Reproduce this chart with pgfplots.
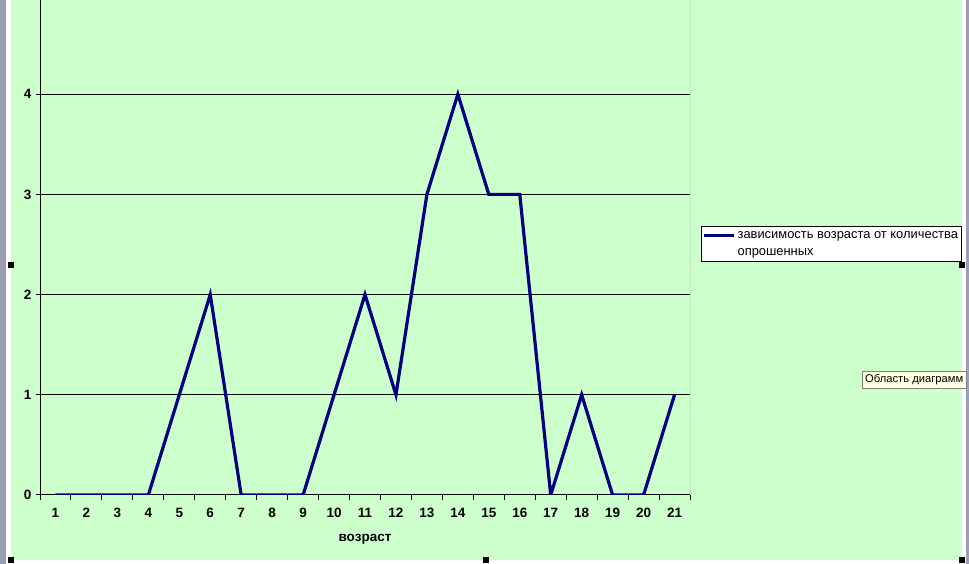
\documentclass[border=0pt]{standalone}
\usepackage{fontspec}
\setmainfont{Liberation Sans}
\usepackage{pgfplots}
\pgfplotsset{compat=1.18}
\definecolor{bggreen}{HTML}{CCFFCC}
\definecolor{navy}{HTML}{000080}
\definecolor{edgegray}{HTML}{9A9EB2}
\definecolor{tipyellow}{HTML}{FFFFE1}
\begin{document}
\begin{tikzpicture}[x=1pt,y=1pt]
\useasboundingbox (0,0) rectangle (969,564);
\fill[white] (0,0) rectangle (969,564);
\fill[edgegray] (0,0) rectangle (6,564);
\fill[edgegray] (966,0) rectangle (969,564);
\fill[bggreen] (11,4) rectangle (962,564);
\begin{axis}[
    at={(40pt,69pt)}, anchor=south west,
    scale only axis, width=650pt, height=495pt,
    xmin=0.5, xmax=21.5, ymin=0, ymax=4.94,
    axis x line*=bottom, axis y line*=left,
    axis line style={black, line width=1pt, -},
    xtick={1,...,21},
    minor xtick={0.5,1.5,...,21.5},
    ytick={0,1,2,3,4},
    tick align=outside,
    major tick length=4pt,
    minor tick length=5pt,
    tick style={black, line width=1pt},
    major x tick style={draw=none},
    ymajorgrids,
    major grid style={black, line width=1pt},
    ticklabel style={font=\bfseries\fontsize{13.5}{16}\selectfont},
    xticklabel style={yshift=-6pt},
    yticklabel style={xshift=-1pt},
    /pgf/number format/assume math mode=true,
    xlabel={возраст},
    xlabel style={font=\bfseries\fontsize{13.5}{16}\selectfont,
        at={(axis description cs:0.5,0)}, anchor=center, yshift=-44pt},
    legend style={at={(1.0169,0.5434)}, anchor=north west,
        draw=black, line width=0.8pt, fill=white,
        font=\fontsize{12.9}{17}\selectfont, inner xsep=1pt, inner ysep=3pt,
        cells={align=left}},
    legend image code/.code={\draw[#1] (0pt,8.5pt) -- (30pt,8.5pt);},
]
\addplot[navy, line width=3.2pt, mark=none] coordinates {
    (1,0) (2,0) (3,0) (4,0) (5,1) (6,2) (7,0) (8,0) (9,0) (10,1) (11,2)
    (12,1) (13,3) (14,4) (15,3) (16,3) (17,0) (18,1) (19,0) (20,0) (21,1)
};
\addlegendentry{зависимость возраста от количества\\опрошенных}
\draw[gray, line width=1pt] (rel axis cs:1,0) -- (rel axis cs:1,1);
\end{axis}
\node[draw=gray, fill=tipyellow, anchor=north west, inner xsep=3pt,
    minimum height=17pt, font=\fontsize{11.2}{13}\selectfont] at (862,193) {Область диаграмм};
\fill[black] (8,1) rectangle (14,7);
\fill[black] (483,1) rectangle (489,7);
\fill[black] (959,1) rectangle (965,7);
\fill[black] (8,296) rectangle (14,302);
\fill[black] (959,296) rectangle (965,302);
\end{tikzpicture}
\end{document}
